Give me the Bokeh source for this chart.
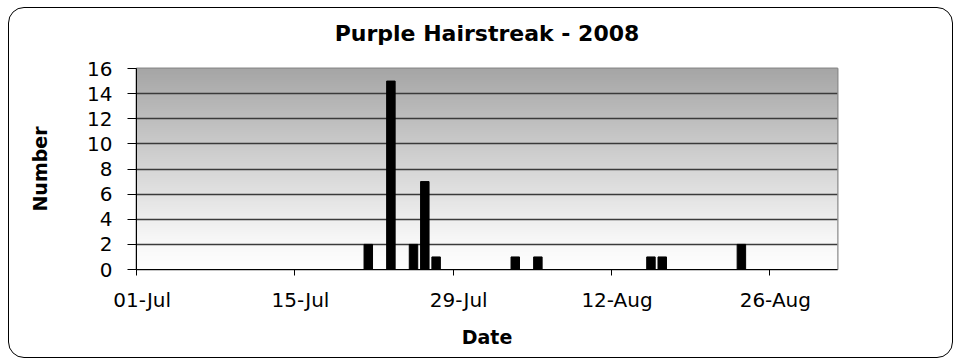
from datetime import datetime

import numpy as np
from bokeh.embed import file_html
from bokeh.models import DatetimeTickFormatter, FixedTicker, Range1d, Title
from bokeh.plotting import figure
from bokeh.resources import INLINE

# Purple Hairstreak sightings per day, summer 2008
dates = ["2008-07-21", "2008-07-23", "2008-07-25", "2008-07-26", "2008-07-27",
         "2008-08-03", "2008-08-05", "2008-08-15", "2008-08-16", "2008-08-23"]
counts = [2, 15, 2, 7, 1, 1, 1, 1, 1, 2]

season_start = "2008-07-01"
season_end = "2008-09-01"
tick_dates = ["2008-07-01", "2008-07-15", "2008-07-29", "2008-08-12", "2008-08-26"]
y_ticks = [0, 2, 4, 6, 8, 10, 12, 14, 16]

DAY_MS = 86400000
EPOCH = datetime(1970, 1, 1)


def to_ms(s):
    return (datetime.strptime(s, "%Y-%m-%d") - EPOCH).total_seconds() * 1000


x0, x1 = to_ms(season_start), to_ms(season_end)
# each day occupies one slot; bars sit in the middle of their day
bar_x = [to_ms(d) + DAY_MS / 2 for d in dates]

FONT = "DejaVu Sans"

p = figure(
    width=945, height=351,
    x_axis_type="datetime",
    x_range=Range1d(x0, x1), y_range=Range1d(0, 16),
    output_backend="svg", toolbar_location=None,
    min_border_left=127, min_border_right=117,
    min_border_top=60, min_border_bottom=90,
    margin=(7, 0, 0, 8),
    border_fill_color=None,
    background_fill_color="white",
    styles={"border": "1px solid #000", "border-radius": "16px"},
)

# grey-to-white vertical wash behind the plot area (row 0 = bottom)
n = 256
rows = np.linspace(0, 16, n)
shade = np.interp(rows, [0, 2.5, 16], [254, 247, 166])
img = np.empty((n, 1), dtype=np.uint32)
view = img.view(dtype=np.uint8).reshape((n, 1, 4))
view[..., 0] = shade[:, None]
view[..., 1] = shade[:, None]
view[..., 2] = shade[:, None]
view[..., 3] = 255
p.image_rgba(image=[img], x=x0, y=0, dw=x1 - x0, dh=16, level="image")

p.vbar(x=bar_x, top=counts, width=DAY_MS * 0.75, color="black")

p.title.text = "Purple Hairstreak - 2008"
p.title.align = "center"
p.title.text_font = FONT
p.title.text_font_size = "22px"
p.title.text_font_style = "bold"
p.title.text_color = "black"
p.title.standoff = 0

# blank band between the title and the plot area
p.add_layout(Title(text=" ", text_font_size="1px", standoff=20), "above")

p.outline_line_color = "#8c8c8c"
p.outline_line_width = 2

p.xgrid.visible = False
p.ygrid.grid_line_color = "#3a3a3a"
p.ygrid.grid_line_width = 1.3

# y axis
p.yaxis.ticker = FixedTicker(ticks=y_ticks)
p.yaxis.axis_label = "Number"
p.yaxis.axis_label_text_font = FONT
p.yaxis.axis_label_text_font_size = "19px"
p.yaxis.axis_label_text_font_style = "bold"
p.yaxis.axis_label_text_color = "black"
p.yaxis.axis_label_standoff = 33
p.yaxis.major_label_text_font = FONT
p.yaxis.major_label_text_font_size = "20px"
p.yaxis.major_label_text_color = "black"
p.yaxis.major_label_standoff = 15
p.yaxis.major_tick_out = 9
p.yaxis.major_tick_in = 0
p.yaxis.minor_tick_out = 0
p.yaxis.minor_tick_in = 0
p.yaxis.axis_line_color = "black"
p.yaxis.major_tick_line_color = "black"

# x axis: labels centred on their day, tick marks on the day boundary
p.xaxis.ticker = FixedTicker(
    ticks=[to_ms(t) + DAY_MS / 2 for t in tick_dates],
    minor_ticks=[to_ms(t) for t in tick_dates],
)
fmt = "%d-%b"
p.xaxis.formatter = DatetimeTickFormatter(
    hours=fmt, hourmin=fmt, days=fmt, months=fmt, years=fmt
)
p.xaxis.axis_label = "Date"
p.xaxis.axis_label_text_font = FONT
p.xaxis.axis_label_text_font_size = "19px"
p.xaxis.axis_label_text_font_style = "bold"
p.xaxis.axis_label_text_color = "black"
p.xaxis.axis_label_standoff = 11
p.xaxis.major_label_text_font = FONT
p.xaxis.major_label_text_font_size = "20px"
p.xaxis.major_label_text_color = "black"
p.xaxis.major_label_standoff = 12
p.xaxis.major_tick_out = 0
p.xaxis.major_tick_in = 0
p.xaxis.major_tick_line_color = None
p.xaxis.minor_tick_out = 6
p.xaxis.minor_tick_in = 0
p.xaxis.minor_tick_line_color = "black"
p.xaxis.axis_line_color = "black"

open("out.html", "w").write(file_html(p, INLINE))
